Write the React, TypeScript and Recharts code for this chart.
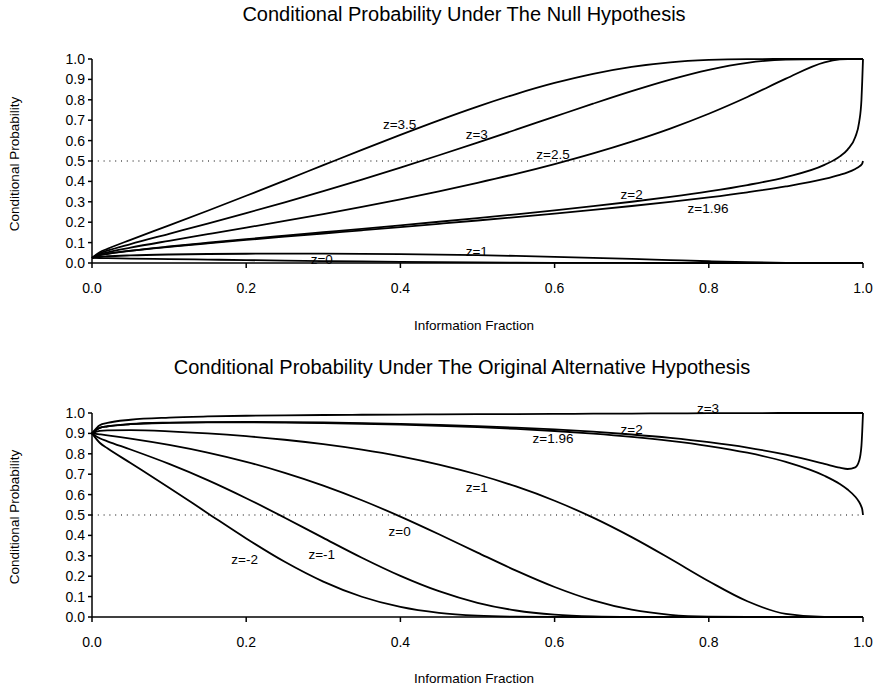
import { LineChart, Line, XAxis, YAxis, ReferenceLine, ReferenceDot } from 'recharts';

// information fraction grid (denser near 0 and 1 where the curves bend hard)
const fractions = [
  0, 0.01, 0.02, 0.05, 0.1, 0.15, 0.2, 0.25, 0.3, 0.35, 0.4, 0.45, 0.5, 0.55, 0.6, 0.65, 0.7,
  0.75, 0.8, 0.85, 0.9, 0.95, 0.97, 0.98, 0.99, 0.995, 0.998, 0.999, 1,
];

// under the null hypothesis
const nullZ35 = [0.025, 0.0528, 0.0694, 0.1135, 0.1842, 0.2561, 0.3295, 0.4042, 0.4795, 0.5546, 0.6283, 0.6995, 0.7668, 0.8283, 0.8825, 0.9274, 0.9615, 0.9839, 0.9956, 0.9997, 1, 1, 1, 1, 1, 1, 1, 1, 1];
const nullZ3 = [0.025, 0.0476, 0.0604, 0.093, 0.1432, 0.1934, 0.2447, 0.2977, 0.3525, 0.4092, 0.4678, 0.5282, 0.5902, 0.6535, 0.7174, 0.781, 0.8424, 0.899, 0.947, 0.9813, 0.9975, 1, 1, 1, 1, 1, 1, 1, 1];
const nullZ25 = [0.025, 0.0428, 0.0523, 0.0753, 0.1089, 0.141, 0.1733, 0.2061, 0.2401, 0.2754, 0.3124, 0.3514, 0.3929, 0.4372, 0.4852, 0.5374, 0.595, 0.659, 0.7315, 0.8135, 0.9035, 0.9835, 0.9981, 1, 1, 1, 1, 1, 1];
const nullZ2 = [0.025, 0.0385, 0.0451, 0.0603, 0.0809, 0.0993, 0.1168, 0.1338, 0.1507, 0.1676, 0.1848, 0.2022, 0.2201, 0.2386, 0.258, 0.2785, 0.3003, 0.3243, 0.351, 0.3822, 0.4215, 0.481, 0.5226, 0.556, 0.618, 0.69, 0.8, 0.891, 1];
const nullZ196 = [0.025, 0.0381, 0.0446, 0.0592, 0.0789, 0.0964, 0.1129, 0.1289, 0.1447, 0.1604, 0.1762, 0.1922, 0.2084, 0.2251, 0.2424, 0.2604, 0.2795, 0.2997, 0.3218, 0.3465, 0.3752, 0.4122, 0.4322, 0.4443, 0.461, 0.4724, 0.4825, 0.4876, 0.5];
const nullZ1 = [0.025, 0.0308, 0.0331, 0.0374, 0.0416, 0.044, 0.0454, 0.0459, 0.0457, 0.0448, 0.0433, 0.0411, 0.0382, 0.0347, 0.0305, 0.0256, 0.0201, 0.0143, 0.0086, 0.0037, 0.0007, 0, 0, 0, 0, 0, 0, 0, 0];
const nullZ0 = [0.025, 0.0244, 0.0239, 0.0216, 0.0194, 0.0168, 0.0142, 0.0118, 0.0096, 0.0075, 0.0057, 0.0041, 0.0028, 0.0018, 0.001, 0.0005, 0.0002, 0, 0, 0, 0, 0, 0, 0, 0, 0, 0, 0, 0];

// under the original alternative
const altZ3 = [0.9, 0.9403, 0.9513, 0.9669, 0.9777, 0.9831, 0.9864, 0.9886, 0.9902, 0.9914, 0.9925, 0.9933, 0.9941, 0.9949, 0.9957, 0.9965, 0.9973, 0.9981, 0.9989, 0.9996, 1, 1, 1, 1, 1, 1, 1, 1, 1];
const altZ2 = [0.9, 0.9274, 0.935, 0.946, 0.9531, 0.9557, 0.9562, 0.9553, 0.9534, 0.9505, 0.9467, 0.9418, 0.9358, 0.9284, 0.9194, 0.9083, 0.8947, 0.878, 0.857, 0.8304, 0.7959, 0.7509, 0.7317, 0.7254, 0.7338, 0.7656, 0.84, 0.9093, 1];
const altZ196 = [0.9, 0.9268, 0.9343, 0.945, 0.9518, 0.9541, 0.9543, 0.9531, 0.9508, 0.9474, 0.943, 0.9375, 0.9306, 0.9221, 0.9118, 0.899, 0.8832, 0.8634, 0.8381, 0.8053, 0.7602, 0.6925, 0.6519, 0.6249, 0.5895, 0.5635, 0.54, 0.528, 0.5];
const altZ1 = [0.9, 0.9125, 0.915, 0.9159, 0.9103, 0.9002, 0.8864, 0.8689, 0.8471, 0.8202, 0.7873, 0.7471, 0.6985, 0.6399, 0.5699, 0.487, 0.3914, 0.2853, 0.1753, 0.0771, 0.0149, 0.0001, 0, 0, 0, 0, 0, 0, 0];
const altZ0 = [0.9, 0.8953, 0.8905, 0.8746, 0.8436, 0.8059, 0.7605, 0.7067, 0.6442, 0.5723, 0.4922, 0.4056, 0.3157, 0.2274, 0.1472, 0.0815, 0.0357, 0.0107, 0.0017, 0.0001, 0, 0, 0, 0, 0, 0, 0, 0, 0];
const altZm1 = [0.9, 0.8759, 0.8612, 0.821, 0.7504, 0.671, 0.5823, 0.4867, 0.3878, 0.2906, 0.2016, 0.1264, 0.0695, 0.0319, 0.0115, 0.0029, 0.0004, 0, 0, 0, 0, 0, 0, 0, 0, 0, 0, 0, 0];
const altZm2 = [0.9, 0.8541, 0.8272, 0.7549, 0.634, 0.5091, 0.3851, 0.2707, 0.1737, 0.0993, 0.0492, 0.0203, 0.0066, 0.0015, 0.0002, 0, 0, 0, 0, 0, 0, 0, 0, 0, 0, 0, 0, 0, 0];

const xTicks = [0, 0.2, 0.4, 0.6, 0.8, 1];
const yTicks = [0, 0.1, 0.2, 0.3, 0.4, 0.5, 0.6, 0.7, 0.8, 0.9, 1];

// curve labels in data coordinates
const nullLabels = [
  { text: 'z=3.5', t: 0.399, p: 0.681 },
  { text: 'z=3', t: 0.499, p: 0.632 },
  { text: 'z=2.5', t: 0.598, p: 0.534 },
  { text: 'z=2', t: 0.7, p: 0.338 },
  { text: 'z=1.96', t: 0.799, p: 0.265 },
  { text: 'z=1', t: 0.499, p: 0.054 },
  { text: 'z=0', t: 0.298, p: 0.015 },
];
const altLabels = [
  { text: 'z=3', t: 0.799, p: 1.02 },
  { text: 'z=2', t: 0.7, p: 0.92 },
  { text: 'z=1.96', t: 0.598, p: 0.873 },
  { text: 'z=1', t: 0.499, p: 0.637 },
  { text: 'z=0', t: 0.399, p: 0.417 },
  { text: 'z=-1', t: 0.298, p: 0.304 },
  { text: 'z=-2', t: 0.198, p: 0.284 },
];

const nullSeries = [
  { key: 'z35', values: nullZ35 },
  { key: 'z3', values: nullZ3 },
  { key: 'z25', values: nullZ25 },
  { key: 'z2', values: nullZ2 },
  { key: 'z196', values: nullZ196 },
  { key: 'z1', values: nullZ1 },
  { key: 'z0', values: nullZ0 },
];
const altSeries = [
  { key: 'z3', values: altZ3 },
  { key: 'z2', values: altZ2 },
  { key: 'z196', values: altZ196 },
  { key: 'z1', values: altZ1 },
  { key: 'z0', values: altZ0 },
  { key: 'zm1', values: altZm1 },
  { key: 'zm2', values: altZm2 },
];

type Series = { key: string; values: number[] };
type Lbl = { text: string; t: number; p: number };

function toRows(series: Series[]) {
  return fractions.map((t, i) => {
    const row: Record<string, number> = { t };
    series.forEach((s) => (row[s.key] = s.values[i]));
    return row;
  });
}

function Panel({ series, labels, height, top, bottom }: { series: Series[]; labels: Lbl[]; height: number; top: number; bottom: number }) {
  return (
    <LineChart width={875} height={height} data={toRows(series)} margin={{ top, right: 12, bottom, left: 0 }}>
      <XAxis
        dataKey='t'
        type='number'
        domain={[0, 1]}
        ticks={xTicks}
        tickFormatter={(v) => v.toFixed(1)}
        height={30}
        tickSize={5}
        tickMargin={15}
        axisLine={{ stroke: '#000', strokeWidth: 1.5 }}
        tickLine={{ stroke: '#000', strokeWidth: 1.5 }}
        tick={{ fill: '#000', fontSize: 14 }}
      />
      <YAxis
        type='number'
        domain={[0, 1]}
        ticks={yTicks}
        tickFormatter={(v) => v.toFixed(1)}
        width={92}
        tickSize={4}
        tickMargin={3}
        axisLine={{ stroke: '#000', strokeWidth: 1.5 }}
        tickLine={{ stroke: '#000', strokeWidth: 1.5 }}
        tick={{ fill: '#000', fontSize: 14 }}
        interval={0}
      />
      <ReferenceLine y={0.5} stroke='#000' strokeWidth={1.2} strokeDasharray='1 4.8' />
      {series.map((s) => (
        <Line
          key={s.key}
          dataKey={s.key}
          type='monotone'
          stroke='#000'
          strokeWidth={1.8}
          dot={false}
          activeDot={false}
          isAnimationActive={false}
        />
      ))}
      {labels.map((l) => (
        <ReferenceDot
          key={l.text}
          x={l.t}
          y={l.p}
          r={0}
          ifOverflow='visible'
          shape={(p: any) => (
            <text x={p.cx} y={p.cy} textAnchor='middle' dominantBaseline='central' fontSize={13.5} fill='#000'>
              {l.text}
            </text>
          )}
        />
      ))}
    </LineChart>
  );
}

export default function App() {
  return (
    <div style={{ position: 'absolute', left: 0, top: 0, width: 875, height: 689, background: '#fff', fontFamily: '"Liberation Sans", Arial, sans-serif' }}>
      <div style={{ position: 'absolute', left: 0, top: 0 }}>
        <Panel series={nullSeries} labels={nullLabels} height={345} top={59} bottom={52} />
      </div>
      <div style={{ position: 'absolute', left: 0, top: 345 }}>
        <Panel series={altSeries} labels={altLabels} height={344} top={68} bottom={42} />
      </div>
      <svg width={875} height={689} style={{ position: 'absolute', left: 0, top: 0, pointerEvents: 'none' }}>
        <text x={464} y={21} textAnchor='middle' fontSize={20} fill='#000'>
          Conditional Probability Under The Null Hypothesis
        </text>
        <text x={462} y={374} textAnchor='middle' fontSize={20} fill='#000'>
          Conditional Probability Under The Original Alternative Hypothesis
        </text>
        <text x={474} y={330} textAnchor='middle' fontSize={13.5} fill='#000'>
          Information Fraction
        </text>
        <text x={474} y={683} textAnchor='middle' fontSize={13.5} fill='#000'>
          Information Fraction
        </text>
        <text transform='translate(14,164) rotate(-90)' textAnchor='middle' dominantBaseline='central' fontSize={13.5} fill='#000'>
          Conditional Probability
        </text>
        <text transform='translate(14,517) rotate(-90)' textAnchor='middle' dominantBaseline='central' fontSize={13.5} fill='#000'>
          Conditional Probability
        </text>
      </svg>
    </div>
  );
}
